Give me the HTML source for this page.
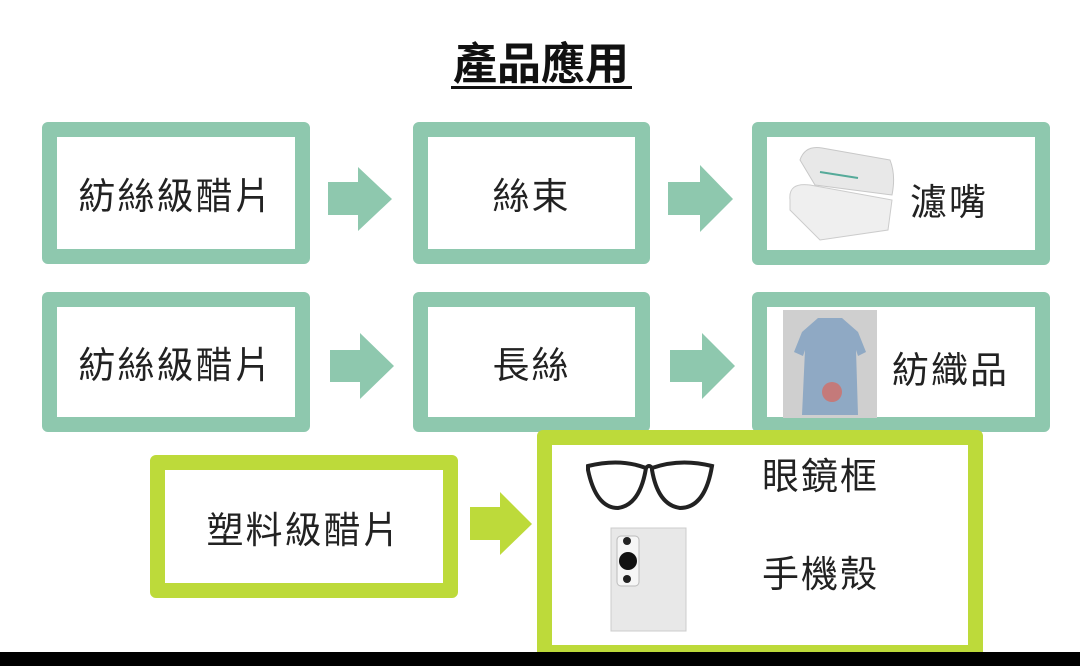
<!DOCTYPE html>
<html><head><meta charset="utf-8"><style>
body{margin:0;width:1080px;height:666px;background:#fff;position:relative;overflow:hidden;font-family:"Liberation Sans","Noto Sans CJK TC",sans-serif;color:#222}
.b{position:absolute;box-sizing:border-box;border:15px solid #8ec8ae;border-radius:6px;background:#fff;display:flex;align-items:center;justify-content:center;font-size:37px;letter-spacing:2px}
.l{border-color:#bdda3a}
.a{position:absolute}
.t{position:absolute;font-size:37px;letter-spacing:2px}
</style></head><body>
<div style="position:absolute;left:446px;top:28px;width:190px;text-align:center;font-size:44px;font-weight:bold;color:#111">產品應用</div>
<div style="position:absolute;left:451px;top:86px;width:181px;height:3px;background:#111"></div>

<div class="b" style="left:42px;top:122px;width:268px;height:142px">紡絲級醋片</div>
<div class="b" style="left:413px;top:122px;width:237px;height:142px">絲束</div>
<div class="b" style="left:752px;top:122px;width:298px;height:143px"></div>
<div class="b" style="left:42px;top:292px;width:268px;height:140px">紡絲級醋片</div>
<div class="b" style="left:413px;top:292px;width:237px;height:140px">長絲</div>
<div class="b" style="left:752px;top:292px;width:298px;height:140px"></div>
<div class="b l" style="left:150px;top:455px;width:308px;height:143px">塑料級醋片</div>
<div class="b l" style="left:537px;top:430px;width:446px;height:230px"></div>

<svg class="a" style="left:0;top:0" width="1080" height="666">
<g fill="#8ec8ae">
<polygon points="328,182 358,182 358,167 392,199 358,231 358,215 328,215"/>
<polygon points="668,182 700,182 700,165 733,199 700,232 700,215 668,215"/>
<polygon points="330,350 360,350 360,333 394,366 360,399 360,382 330,382"/>
<polygon points="670,350 702,350 702,333 735,366 702,399 702,382 670,382"/>
</g>
<polygon fill="#bdda3a" points="470,507 500,507 500,492 532,524 500,555 500,540 470,540"/>
<!-- filter roll -->
<g>
<path d="M800,160 Q805,145 822,148 L890,160 Q896,175 892,195 L815,185 Z" fill="#e8e8e8" stroke="#c8c8c8"/>
<path d="M790,200 Q788,182 810,185 L892,200 L888,230 L820,240 L790,210 Z" fill="#efefef" stroke="#ccc"/>
<line x1="820" y1="172" x2="858" y2="178" stroke="#5a9" stroke-width="2"/>
</g>
<!-- dress -->
<rect x="783" y="310" width="94" height="108" fill="#cfcfcf"/>
<path d="M818,318 L842,318 L858,332 L866,352 L858,356 L856,350 L858,415 L802,415 L805,350 L803,356 L794,352 L802,332 Z" fill="#8fa9c4"/>
<circle cx="832" cy="392" r="10" fill="#c47a7a"/>
<!-- glasses -->
<g fill="none" stroke="#222" stroke-width="4">
<path d="M588,466 Q620,458 646,468 Q640,505 618,508 Q596,508 588,470 Z"/>
<path d="M652,468 Q680,458 712,466 Q705,508 680,508 Q658,505 652,470 Z"/>
<path d="M646,468 Q649,464 652,468"/>
</g>
<!-- phone -->
<rect x="611" y="528" width="75" height="103" fill="#e8e8e8" stroke="#ccc"/>
<rect x="617" y="536" width="22" height="50" rx="4" fill="#f6f6f6" stroke="#bbb"/>
<circle cx="627" cy="541" r="4" fill="#222"/>
<circle cx="628" cy="561" r="9" fill="#111"/>
<circle cx="627" cy="579" r="4" fill="#222"/>
<rect x="0" y="652" width="1080" height="14" fill="#000"/>
</svg>
<div class="t" style="left:910px;top:172px">濾嘴</div>
<div class="t" style="left:892px;top:340px">紡織品</div>
<div class="t" style="left:762px;top:446px">眼鏡框</div>
<div class="t" style="left:762px;top:544px">手機殼</div>
</body></html>
